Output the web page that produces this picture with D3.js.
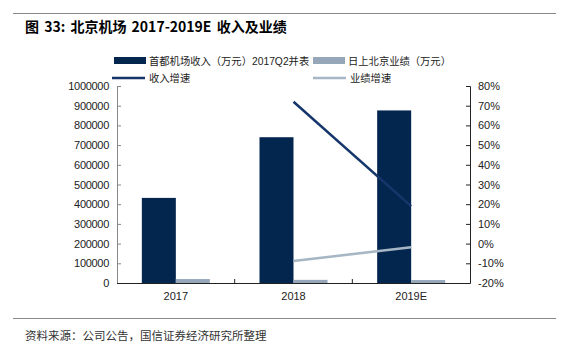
<!DOCTYPE html>
<html><head><meta charset="utf-8">
<script src="https://cdn.jsdelivr.net/npm/d3@7"></script>
<style>body{margin:0;background:#fff}svg{display:block}text{font-family:"Liberation Sans",Arial,"Noto Sans CJK SC",sans-serif}</style>
</head><body>
<script>
const categories = ["2017","2018","2019E"];
const revenue = [432000, 740000, 876000];
const dutyFree = [20000, 16000, 15000];
const revenueGrowth = [null, 0.72, 0.19];
const dutyFreeGrowth = [null, -0.088, -0.019];
const leftTicks = [0,100000,200000,300000,400000,500000,600000,700000,800000,900000,1000000];
const rightTicks = [-0.2,-0.1,0,0.1,0.2,0.3,0.4,0.5,0.6,0.7,0.8];
const names = ["首都机场收入（万元）2017Q2并表","日上北京业绩（万元）","收入增速","业绩增速"];

const W=569,H=347;
const dark="#03264F", grey="#95A7B8", darkLine="#15356B", lightLine="#A6B6C5";
const svg=d3.select("body").append("svg").attr("width",W).attr("height",H);
const cjk='"Noto Sans CJK SC",sans-serif';

svg.append("line").attr("x1",13).attr("x2",556).attr("y1",13.5).attr("y2",13.5).attr("stroke","#888").attr("stroke-width",1);
svg.append("text").attr("x",25).attr("y",32).attr("font-size",14).attr("font-weight","bold").style("font-family",cjk).attr("word-spacing",2).text("图 33:  北京机场 2017-2019E 收入及业绩");
svg.append("line").attr("x1",13).attr("x2",556).attr("y1",318.5).attr("y2",318.5).attr("stroke","#888").attr("stroke-width",1);
svg.append("text").attr("x",25).attr("y",340).attr("font-size",11.5).attr("fill","#333").style("font-family",cjk).text("资料来源：公司公告，国信证券经济研究所整理");

const x0=117, x1=470, yT=86, yB=283;
const x=d3.scaleBand().domain(categories).range([x0,x1]).paddingInner(0).paddingOuter(0);
const yL=d3.scaleLinear().domain([0,1000000]).range([yB,yT]);
const yR=d3.scaleLinear().domain([-0.2,0.8]).range([yB,yT]);
const bw=34;

const g=svg.append("g");
g.selectAll(".b1").data(categories).join("rect")
 .attr("x",d=>x(d)+x.bandwidth()/2-bw).attr("width",bw)
 .attr("y",(d,i)=>yL(revenue[i])).attr("height",(d,i)=>yB-yL(revenue[i])).attr("fill",dark);
g.selectAll(".b2").data(categories).join("rect")
 .attr("x",d=>x(d)+x.bandwidth()/2).attr("width",bw)
 .attr("y",(d,i)=>yL(dutyFree[i])).attr("height",(d,i)=>yB-yL(dutyFree[i])).attr("fill",grey);

const line=(arr)=>d3.line().defined((d,i)=>arr[i]!=null).x((d,i)=>x(categories[i])+x.bandwidth()/2).y((d,i)=>yR(arr[i]))(arr);
g.append("path").attr("d",line(revenueGrowth)).attr("fill","none").attr("stroke",darkLine).attr("stroke-width",2.5);
g.append("path").attr("d",line(dutyFreeGrowth)).attr("fill","none").attr("stroke",lightLine).attr("stroke-width",2.5);

// axes
const la=svg.append("g").attr("transform",`translate(${x0},0)`)
 .call(d3.axisLeft(yL).tickValues(leftTicks).tickSizeInner(-4).tickSizeOuter(-4).tickPadding(8).tickFormat(d3.format("d")));
const ra=svg.append("g").attr("transform",`translate(${x1},0)`)
 .call(d3.axisRight(yR).tickValues(rightTicks).tickSizeInner(-4).tickSizeOuter(-4).tickPadding(8).tickFormat(d=>Math.round(d*100)+"%"));
[la,ra].forEach(a=>{a.selectAll("text").attr("font-size",11).attr("fill","#222").style("font-family",'"Liberation Sans",Arial,sans-serif');a.select(".domain").attr("stroke","#222");a.selectAll(".tick line").attr("stroke","#222");});
la.select(".domain").attr("stroke","#888");
la.selectAll(".tick line").attr("stroke","#888");
la.selectAll("text").attr("letter-spacing",-0.3);

const xa=svg.append("g").attr("transform",`translate(0,${yB})`).call(d3.axisBottom(x).tickSize(0).tickPadding(9));
xa.select(".domain").attr("stroke","#222").attr("d",`M${x0},0.5H${x1}`);
xa.selectAll("text").attr("font-size",11).attr("fill","#222");
xa.selectAll(".sep").data(categories.slice(1)).join("line").attr("x1",d=>x(d)).attr("x2",d=>x(d)).attr("y1",0).attr("y2",-4).attr("stroke","#222");

// legend
const lg=svg.append("g").style("font-family",cjk);
const items=[{x:114,y:61,t:"rect",c:dark},{x:313,y:61,t:"rect",c:grey},{x:112,y:78,t:"line",c:darkLine},{x:313,y:78,t:"line",c:lightLine}];
items.forEach((it,i)=>{
  if(it.t==="rect") lg.append("rect").attr("x",it.x).attr("y",it.y-4).attr("width",32).attr("height",7).attr("fill",it.c);
  else lg.append("line").attr("x1",it.x).attr("x2",it.x+33).attr("y1",it.y).attr("y2",it.y).attr("stroke",it.c).attr("stroke-width",2.5);
  lg.append("text").attr("x",(it.t==="rect"?it.x+35:it.x+37)).attr("y",it.y+4).attr("font-size",10.3).attr("fill","#222").text(names[i]);
});
</script>
</body></html>
